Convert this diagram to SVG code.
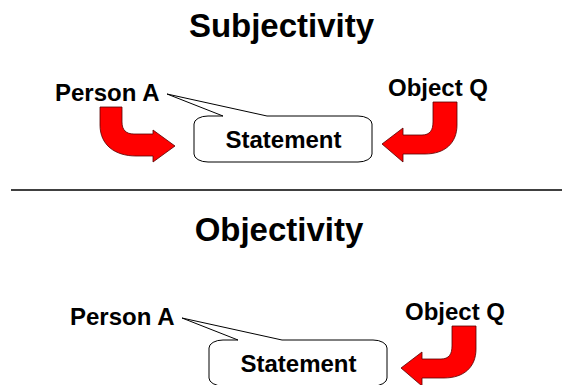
<svg xmlns="http://www.w3.org/2000/svg" width="562" height="385" viewBox="0 0 562 385">
<style>
.t{font-family:"Liberation Sans",Arial,sans-serif;font-weight:bold;fill:#000}
.title{font-size:33px}
.lbl{font-size:24px}
.callout{fill:#fff;stroke:#000;stroke-width:1}
.arrow{fill:#ff0000;stroke:#500;stroke-width:0.8;stroke-linejoin:miter}
</style>
<defs>
<path id="callout" d="M208,116 L223,116 L167,94 L267,116 L358,116 A14 8 0 0 1 372,124 L372,154 A14 8 0 0 1 358,162 L208,162 A14 8 0 0 1 194,154 L194,124 A14 8 0 0 1 208,116 Z"/>
<path id="arrowL" d="M100,107 L122,107 L122,122 C122,130 126,134 134,134 L153,134 L153,130 L175,146 L153,162 L153,156 L136,156 C115,156 100,145 100,125 Z"/>
<path id="arrowR" d="M433,102 L457,102 L457,125 C457,143 445,154 425,154 L403,154 L403,162 L382,144 L403,128 L403,135 L422,135 C430,135 433,130 433,122 Z"/>
</defs>

<g id="title-subjectivity"><text class="t title" x="281.5" y="37" text-anchor="middle">Subjectivity</text></g>

<g id="connectors">
<use href="#arrowL" class="arrow"/>
<use href="#arrowR" class="arrow"/>
<use href="#arrowR" class="arrow" transform="translate(19,224)"/>
</g>

<g id="statement-top">
<use href="#callout" class="callout"/>
<text class="t lbl" x="283.5" y="148" text-anchor="middle">Statement</text>
</g>
<g id="personA-top"><text class="t lbl" x="55" y="101">Person A</text></g>
<g id="objectQ-top"><text class="t lbl" x="388" y="96">Object Q</text></g>

<g id="separator"><line x1="11" y1="190" x2="562" y2="190" stroke="#000" stroke-width="1.5"/></g>

<g id="title-objectivity"><text class="t title" x="279" y="241" text-anchor="middle">Objectivity</text></g>

<g id="statement-bottom">
<use href="#callout" class="callout" transform="translate(15,224)"/>
<text class="t lbl" x="298.5" y="372" text-anchor="middle">Statement</text>
</g>
<g id="personA-bottom"><text class="t lbl" x="70" y="325">Person A</text></g>
<g id="objectQ-bottom"><text class="t lbl" x="405" y="320">Object Q</text></g>
</svg>
